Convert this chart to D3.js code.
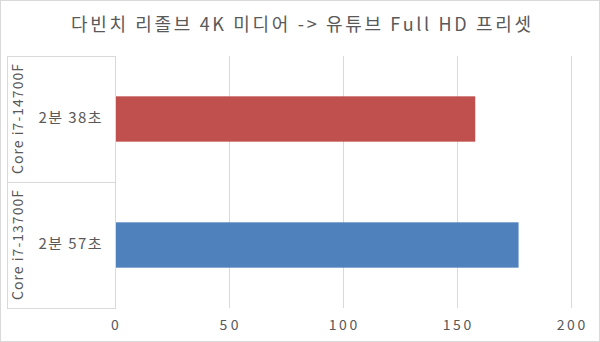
<!DOCTYPE html>
<html>
<head>
<meta charset="utf-8">
<script src="https://cdn.jsdelivr.net/npm/d3@7"></script>
<style>
  body { margin: 0; background: #fff; }
  svg { display: block; }
  text { font-family: "Noto Sans CJK KR", "Noto Sans", sans-serif; fill: #595959; }
</style>
</head>
<body>
<div id="chart"></div>
<script>
var width = 600, height = 342;

// data
var categories = ["Core i7-14700F", "Core i7-13700F"];
var seconds = [158, 177];
var valueLabels = ["2분 38초", "2분 57초"];
var barColors = ["#c0504d", "#4f81bd"];
var xTicks = [0, 50, 100, 150, 200];
var title = "다빈치 리졸브 4K 미디어 -> 유튜브 Full HD 프리셋";

// plot area (note: "top" is taken by window.top)
var plotLeft = 115, plotRight = 571, plotTop = 56, plotBottom = 308;

var svg = d3.select("#chart").append("svg")
    .attr("width", width)
    .attr("height", height);

// outer border
svg.append("rect")
    .attr("x", 0.5).attr("y", 0.5)
    .attr("width", width - 1).attr("height", height - 1)
    .attr("fill", "#fff")
    .attr("stroke", "#d9d9d9");

var x = d3.scaleLinear().domain([0, 200]).range([plotLeft, plotRight]);
var y = d3.scaleBand().domain(categories).range([plotTop, plotBottom]).paddingInner(0.64).paddingOuter(0.32);
var band = d3.scaleBand().domain(categories).range([plotTop, plotBottom]);

// title (original font is much wider, stretch the spacing)
svg.append("text")
    .attr("x", 301).attr("y", 31)
    .attr("text-anchor", "middle")
    .attr("textLength", 460)
    .attr("lengthAdjust", "spacing")
    .style("font-size", "18px")
    .text(title);

// gridlines
svg.append("g").selectAll("line")
    .data(xTicks.slice(1))
    .enter().append("line")
    .attr("x1", function(d) { return Math.round(x(d)) + 0.5; })
    .attr("x2", function(d) { return Math.round(x(d)) + 0.5; })
    .attr("y1", plotTop).attr("y2", plotBottom)
    .attr("stroke", "#d9d9d9");

// x tick labels
svg.append("g").selectAll("text")
    .data(xTicks)
    .enter().append("text")
    .attr("x", function(d) { return x(d); })
    .attr("y", 330)
    .attr("text-anchor", "middle")
    .attr("textLength", function(d) { return String(d).length * 9.5; })
    .attr("lengthAdjust", "spacing")
    .style("font-size", "14px")
    .text(function(d) { return d; });

// category box on the left
var box = svg.append("g").attr("stroke", "#d9d9d9").attr("fill", "none");
box.append("rect")
    .attr("x", 7.5).attr("y", plotTop + 0.5)
    .attr("width", plotLeft - 7).attr("height", plotBottom - plotTop);
box.append("line")
    .attr("x1", 7.5).attr("x2", plotLeft + 0.5)
    .attr("y1", Math.round(band(categories[1])) + 0.5)
    .attr("y2", Math.round(band(categories[1])) + 0.5);

// rotated category labels
svg.append("g").selectAll("text")
    .data(categories)
    .enter().append("text")
    .attr("transform", function(d) {
        return "translate(23," + (band(d) + band.bandwidth() / 2) + ") rotate(-90)";
    })
    .attr("text-anchor", "middle")
    .attr("textLength", 110)
    .attr("lengthAdjust", "spacing")
    .style("font-size", "14px")
    .text(function(d) { return d; });

// value labels in box
svg.append("g").selectAll("text")
    .data(categories)
    .enter().append("text")
    .attr("x", 70)
    .attr("y", function(d) { return band(d) + band.bandwidth() / 2 + 4; })
    .attr("text-anchor", "middle")
    .attr("textLength", 63)
    .attr("lengthAdjust", "spacing")
    .style("font-size", "15px")
    .text(function(d, i) { return valueLabels[i]; });

// bars
svg.append("g").selectAll("rect")
    .data(categories)
    .enter().append("rect")
    .attr("x", x(0) + 1)
    .attr("y", function(d) { return y(d); })
    .attr("width", function(d, i) { return x(seconds[i]) - x(0) - 1; })
    .attr("height", y.bandwidth())
    .attr("fill", function(d, i) { return barColors[i]; });
</script>
</body>
</html>
